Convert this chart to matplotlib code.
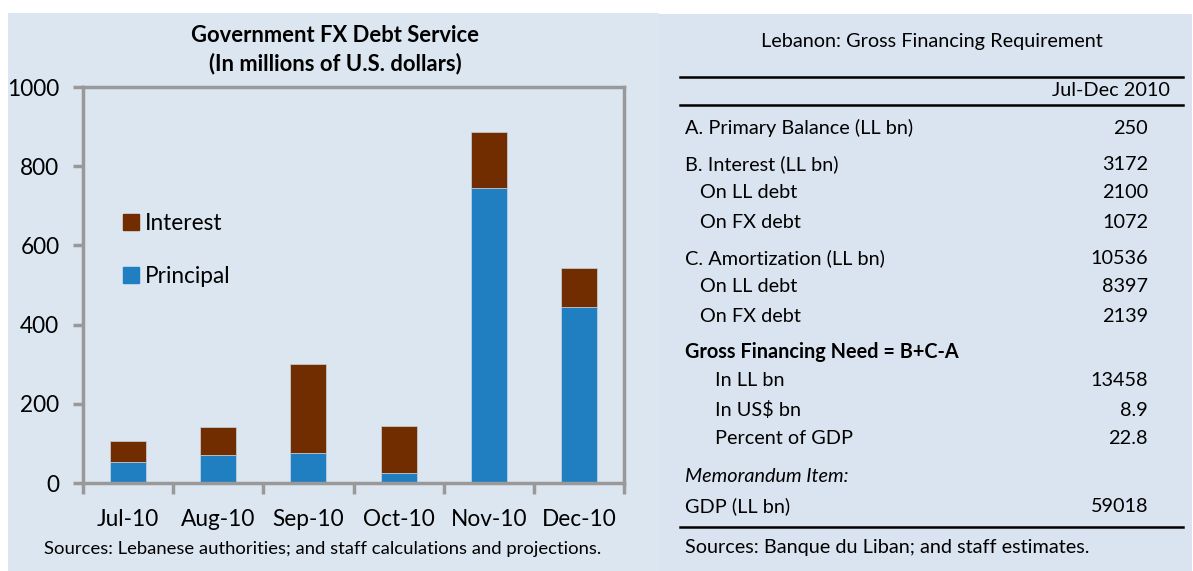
import numpy as np
import matplotlib
matplotlib.use('Agg')
import matplotlib.pyplot as plt
from matplotlib.patches import Rectangle, Patch

plt.rcParams['font.family'] = ['Lato', 'DejaVu Sans']

# monthly FX debt service, millions of US$
months = ['Jul-10', 'Aug-10', 'Sep-10', 'Oct-10', 'Nov-10', 'Dec-10']
principal = [53, 70, 75, 24, 745, 444]
interest = [54, 71, 226, 121, 142, 99]

# financing requirement table
table_title = 'Lebanon: Gross Financing Requirement'
table_period = 'Jul-Dec 2010'
row_labels = ['A. Primary Balance (LL bn)', 'B. Interest (LL bn)', 'On LL debt', 'On FX debt',
              'C. Amortization (LL bn)', 'On LL debt', 'On FX debt',
              'Gross Financing Need = B+C-A', 'In LL bn', 'In US$ bn', 'Percent of GDP',
              'Memorandum Item:', 'GDP (LL bn)']
row_values = ['250', '3172', '2100', '1072', '10536', '8397', '2139',
              '', '13458', '8.9', '22.8', '', '59018']

W, H = 1193, 571
BG_LEFT = '#dce6f1'
BG_RIGHT = '#dae4f0'
GREY = '#999999'
BLUE = '#1f7fc1'
BROWN = '#712d00'
FS_AX = 16.3
FS_TAB = 14.3

fig = plt.figure(figsize=(W / 100, H / 100), dpi=100)

# full-figure layer in pixel units for panels, titles and the table
bg = fig.add_axes([0, 0, 1, 1])
bg.set_xlim(0, W)
bg.set_ylim(H, 0)
bg.axis('off')
bg.add_patch(Rectangle((8, 13), 651, 558, color=BG_LEFT, lw=0))
bg.add_patch(Rectangle((659, 14), 533, 557, color=BG_RIGHT, lw=0))

# --- bar chart ---
ax = fig.add_axes([83 / W, 1 - 483 / H, 541 / W, 396 / H])
ax.set_facecolor('none')
x = np.arange(len(months))
ax.bar(x, principal, 0.4, color=BLUE, edgecolor='#c8d4e0', linewidth=0.5)
ax.bar(x, interest, 0.4, bottom=principal, color=BROWN, edgecolor='#c8d4e0', linewidth=0.5)
ax.set_xlim(-0.5, len(months) - 0.5)
ax.set_ylim(0, 1000)
ax.set_yticks(range(0, 1001, 200))
ax.set_xticks(x, months)
ax.set_xticks(np.arange(-0.5, len(months), 1), minor=True)
ax.tick_params(axis='x', which='major', length=0, pad=19, labelsize=FS_AX)
ax.tick_params(axis='x', which='minor', length=8, width=2.5, color=GREY)
ax.tick_params(axis='y', length=7, width=2.5, color=GREY, pad=10, labelsize=FS_AX)
for s in ax.spines.values():
    s.set_color(GREY)
    s.set_linewidth(2.5)

handles = [Patch(color=BROWN, label='Interest'), Patch(color=BLUE, label='Principal')]
ax.legend(handles=handles, loc='upper left', bbox_to_anchor=((123 - 83) / 541, (483 - 213) / 396),
          frameon=False, fontsize=FS_AX, handlelength=0.7, handleheight=0.75,
          handletextpad=0.25, labelspacing=1.4, borderpad=0, borderaxespad=0)

bg.text(335, 36, 'Government FX Debt Service', ha='center', va='center',
        fontsize=15.8, fontweight='bold')
bg.text(335, 64, '(In millions of U.S. dollars)', ha='center', va='center',
        fontsize=15.8, fontweight='bold')
bg.text(44, 549, 'Sources: Lebanese authorities; and staff calculations and projections.',
        ha='left', va='center', fontsize=13.3)

# --- table ---
tx0, tx1 = 680, 1183
val_x = 1148
bg.text(932, 42, table_title, ha='center', va='center', fontsize=FS_TAB)
bg.plot([tx0, tx1], [77, 77], color='black', lw=1.8)
bg.text(1170, 91, table_period, ha='right', va='center', fontsize=FS_TAB)
bg.plot([tx0, tx1], [105, 105], color='black', lw=1.8)

indent = [0, 0, 1, 1, 0, 1, 1, 0, 2, 2, 2, 0, 0]
gap = [0, 7, 0, 0, 7, 0, 0, 7, 0, 0, 0, 9, 0]
y = 128 - 29
for i, (lab, val) in enumerate(zip(row_labels, row_values)):
    y += 29 + gap[i]
    style = {}
    if i == 7:
        style['fontweight'] = 'bold'
    if i == 11:
        style['fontstyle'] = 'italic'
    bg.text(685 + 15 * indent[i], y, lab, ha='left', va='center', fontsize=FS_TAB, **style)
    if val:
        bg.text(val_x, y, val, ha='right', va='center', fontsize=FS_TAB)

bg.plot([tx0, tx1], [527, 527], color='black', lw=1.8)
bg.text(685, 548, 'Sources: Banque du Liban; and staff estimates.', ha='left', va='center',
        fontsize=FS_TAB)

fig.savefig('out.png', dpi=100)
